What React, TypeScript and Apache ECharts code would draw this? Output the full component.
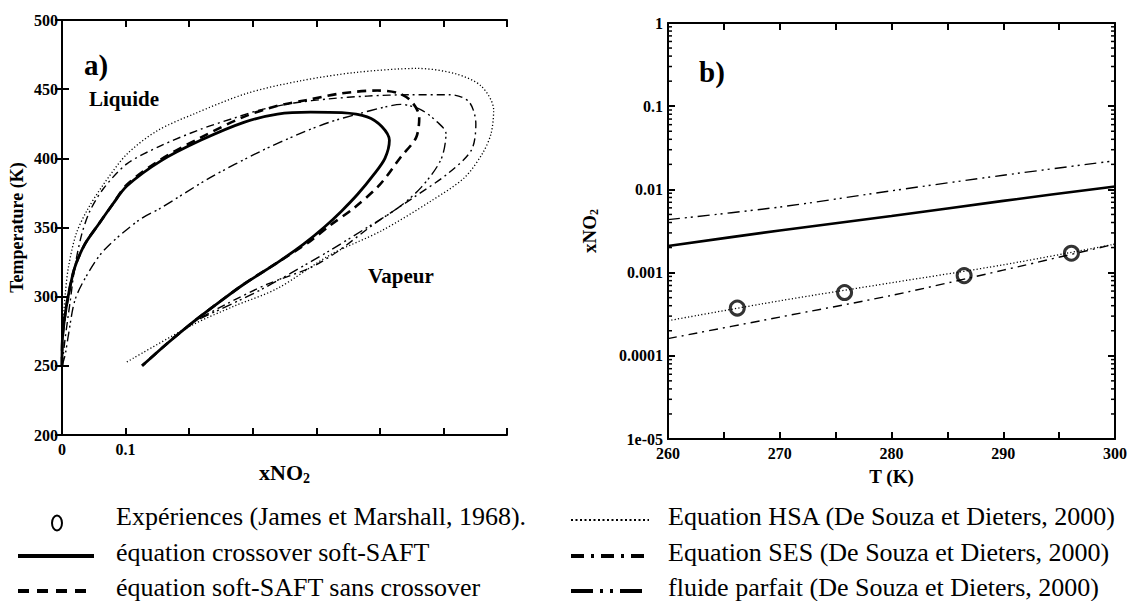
import React, { useEffect, useRef } from "react";
import * as echarts from "echarts";

// ---------- Panel a) : T (K) versus xNO2 ----------
const crossoverSAFT: [number, number][] = [
  [0, 250], [0.0005, 268], [0.004, 284], [0.01, 301], [0.02, 321], [0.036, 338],
  [0.057, 352], [0.08, 367], [0.102, 380], [0.155, 398], [0.218, 413], [0.286, 426],
  [0.339, 432], [0.391, 433.4], [0.44, 433], [0.48, 430], [0.503, 423], [0.515, 413],
  [0.508, 400], [0.49, 388], [0.465, 374], [0.44, 362], [0.412, 350], [0.38, 338],
  [0.34, 325], [0.286, 309], [0.25, 297], [0.207, 282], [0.165, 266], [0.126, 250],
];
const softSAFT: [number, number][] = [
  [0, 250], [0.0005, 268], [0.004, 284], [0.01, 301], [0.02, 321], [0.036, 338],
  [0.057, 352], [0.08, 367], [0.102, 381], [0.155, 399], [0.218, 415], [0.286, 430],
  [0.339, 438], [0.384, 442], [0.44, 447], [0.496, 449], [0.53, 447], [0.55, 441],
  [0.562, 430], [0.557, 415], [0.533, 401], [0.5, 381], [0.459, 364], [0.423, 352],
  [0.39, 340], [0.34, 325], [0.286, 309], [0.25, 297], [0.207, 282], [0.165, 266],
  [0.126, 250],
];
const sesA: [number, number][] = [
  [0, 250], [0.005, 270], [0.01, 287], [0.013, 297], [0.02, 321], [0.031, 345],
  [0.044, 362], [0.065, 378], [0.102, 396], [0.155, 409], [0.218, 421], [0.27, 429],
  [0.312, 435], [0.365, 440], [0.42, 443], [0.48, 445], [0.55, 446], [0.61, 446],
  [0.64, 441], [0.651, 425], [0.644, 406], [0.607, 389], [0.554, 372], [0.491, 352.5],
  [0.433, 332.5], [0.391, 321], [0.323, 309], [0.26, 295], [0.207, 282],
];
const parfaitA: [number, number][] = [
  [0, 250], [0.005, 258], [0.01, 272], [0.02, 297], [0.036, 313], [0.065, 333],
  [0.12, 355], [0.155, 364], [0.233, 386], [0.312, 405], [0.375, 418], [0.42, 426],
  [0.465, 432], [0.507, 437], [0.533, 439], [0.565, 435], [0.591, 426], [0.604, 418],
  [0.596, 399], [0.565, 379], [0.528, 364], [0.48, 350], [0.42, 333], [0.36, 317],
  [0.3, 302], [0.207, 282],
];
const hsaA: [number, number][] = [
  [0, 255], [0.001, 275], [0.005, 301], [0.01, 321], [0.022, 345], [0.039, 362],
  [0.065, 381], [0.102, 403], [0.15, 420], [0.207, 432], [0.291, 447], [0.375, 456],
  [0.46, 462], [0.559, 465], [0.62, 461], [0.66, 452], [0.679, 435], [0.675, 418],
  [0.662, 404], [0.633, 386], [0.58, 369], [0.502, 347.5], [0.423, 330.5],
  [0.339, 306], [0.27, 293], [0.207, 280], [0.099, 252],
];
const xLabelsA = ["0", "0.1"];

// ---------- Panel b) : xNO2 (log) versus T (K) ----------
const tempB = [260, 270, 280, 290, 300];
const crossoverB = [0.00209, 0.00321, 0.00479, 0.00728, 0.01086];
const hsaB = [0.000264, 0.000458, 0.000755, 0.00124, 0.0022];
const sesB = [0.000161, 0.000292, 0.000532, 0.00107, 0.0022];
const parfaitB = [0.00433, 0.00614, 0.00962, 0.0148, 0.0221];
const expT = [266.2, 275.8, 286.5, 296.1];
const expX = [0.000375, 0.000576, 0.00092, 0.00171];
const yLabelsB = ["1e-05", "0.0001", "0.001", "0.01", "0.1", "1"];
const minorMantissas = [2, 3, 4, 5, 6, 7, 8, 9];
const minorDecades = [1e-5, 1e-4, 1e-3, 1e-2, 1e-1];

// ---------- Legend ----------
const legendLeft = [
  "Expériences (James et Marshall, 1968).",
  "équation crossover soft-SAFT",
  "équation soft-SAFT sans crossover",
];
const legendRight = [
  "Equation HSA (De Souza et Dieters, 2000)",
  "Equation SES (De Souza et Dieters, 2000)",
  "fluide parfait (De Souza et Dieters, 2000)",
];

const SERIF = "Liberation Serif";
const BLACK = "#000";

const GA = { left: 62, top: 20, width: 445, height: 415 };
const GB = { left: 668, top: 23, width: 447, height: 416 };
const ROWS = [518, 554, 589];

const tickLabel = { fontFamily: SERIF, fontWeight: "bold" as const, fontSize: 16, color: BLACK };
const axisLine = { show: true, lineStyle: { color: BLACK, width: 2 } };
const axisTick = { show: true, inside: true, length: 7, lineStyle: { color: BLACK, width: 2 } };
const subRich = {
  n: { fontFamily: SERIF, fontWeight: "bold" as const, fontSize: 22, color: BLACK },
  s: { fontFamily: SERIF, fontWeight: "bold" as const, fontSize: 14, color: BLACK, padding: [11, 0, 0, 0] },
};
const subRichSide = {
  n: { fontFamily: SERIF, fontWeight: "bold" as const, fontSize: 19, color: BLACK },
  s: { fontFamily: SERIF, fontWeight: "bold" as const, fontSize: 12, color: BLACK, padding: [9, 0, 0, 0] },
};
const legendText = (text: string, left: number, y: number) => ({
  type: "text", left, top: y - 15,
  style: { text, fontFamily: SERIF, fontSize: 26, fill: BLACK },
});
const boldText = (text: string, left: number, top: number, size: number) => ({
  type: "text", left, top,
  style: { text, fontFamily: SERIF, fontWeight: "bold", fontSize: size, fill: BLACK },
});

function lineA(name: string, data: [number, number][], width: number, type: any) {
  return {
    name, type: "line", xAxisIndex: 0, yAxisIndex: 0, data, showSymbol: false,
    smooth: 0.3, silent: true, lineStyle: { color: BLACK, width, type },
  };
}
function lineB(name: string, vals: number[], width: number, type: any) {
  return {
    name, type: "line", xAxisIndex: 2, yAxisIndex: 2,
    data: tempB.map((t, i) => [t, vals[i]]), showSymbol: false, smooth: 0.3, silent: true,
    lineStyle: { color: BLACK, width, type },
  };
}

export default function App() {
  const ref = useRef<HTMLDivElement>(null);
  useEffect(() => {
    if (!ref.current) return;
    const chart = echarts.init(ref.current, undefined, { renderer: "svg" });
    const minorTicks: number[][] = [];
    minorDecades.forEach((d) => minorMantissas.forEach((m) => minorTicks.push([260, m * d])));

    const g: any[] = [];
    legendLeft.forEach((t, i) => g.push(legendText(t, 116, ROWS[i])));
    legendRight.forEach((t, i) => g.push(legendText(t, 668, ROWS[i])));
    g.push(
      { type: "ellipse", shape: { cx: 57, cy: ROWS[0] + 5, rx: 5, ry: 7.5 }, style: { fill: "none", stroke: BLACK, lineWidth: 2 } },
      { type: "line", shape: { x1: 18, y1: ROWS[1] + 2, x2: 94, y2: ROWS[1] + 2 }, style: { stroke: BLACK, lineWidth: 4 } },
      { type: "line", shape: { x1: 18, y1: ROWS[2] + 2, x2: 94, y2: ROWS[2] + 2 }, style: { stroke: BLACK, lineWidth: 4, lineDash: [11, 8] } },
      { type: "line", shape: { x1: 571, y1: ROWS[0] + 2, x2: 649, y2: ROWS[0] + 2 }, style: { stroke: BLACK, lineWidth: 2, lineDash: [2, 2.5] } },
      { type: "line", shape: { x1: 571, y1: ROWS[1] + 2, x2: 649, y2: ROWS[1] + 2 }, style: { stroke: BLACK, lineWidth: 4, lineDash: [13, 7, 3, 7] } },
      { type: "line", shape: { x1: 571, y1: ROWS[2] + 2, x2: 649, y2: ROWS[2] + 2 }, style: { stroke: BLACK, lineWidth: 4, lineDash: [22, 7, 3, 7, 3, 7] } },
      boldText("a)", GA.left + 22, GA.top + 30, 29),
      boldText("Liquide", GA.left + 27, GA.top + 68, 21),
      boldText("Vapeur", GA.left + 306, GA.top + 245, 21),
      boldText("b)", GB.left + 31, GB.top + 34, 29)
    );

    const option: any = {
      animation: false,
      backgroundColor: "#fff",
      grid: [
        { ...GA, containLabel: false },
        { ...GB, containLabel: false },
      ],
      xAxis: [
        {
          gridIndex: 0, type: "value", min: 0, max: 0.7, interval: 0.1, position: "bottom",
          axisLine, axisTick, splitLine: { show: false },
          axisLabel: {
            ...tickLabel, margin: 6,
            formatter: (v: number) => (Math.abs(v) < 1e-9 ? xLabelsA[0] : Math.abs(v - 0.1) < 1e-9 ? xLabelsA[1] : ""),
          },
          name: "{n|xNO}{s|2}", nameLocation: "middle", nameGap: 19, nameTextStyle: { rich: subRich },
        },
        {
          gridIndex: 0, type: "value", min: 0, max: 0.7, interval: 0.1, position: "top",
          axisLine, axisTick, axisLabel: { show: false }, splitLine: { show: false },
        },
        {
          gridIndex: 1, type: "value", min: 260, max: 300, interval: 10, position: "bottom",
          axisLine, axisTick, splitLine: { show: false },
          minorTick: { show: true, splitNumber: 2, length: 7, lineStyle: { color: BLACK, width: 2 } },
          axisLabel: { ...tickLabel, margin: 6 },
          name: "T (K)", nameLocation: "middle", nameGap: 28,
          nameTextStyle: { fontFamily: SERIF, fontWeight: "bold", fontSize: 19, color: BLACK },
        },
        {
          gridIndex: 1, type: "value", min: 260, max: 300, interval: 10, position: "top",
          axisLine, axisTick, axisLabel: { show: false }, splitLine: { show: false },
          minorTick: { show: true, splitNumber: 2, length: 7, lineStyle: { color: BLACK, width: 2 } },
        },
      ],
      yAxis: [
        {
          gridIndex: 0, type: "value", min: 200, max: 500, interval: 50, position: "left",
          axisLine, axisTick, splitLine: { show: false }, axisLabel: { ...tickLabel, margin: 4 },
          name: "Temperature (K)", nameLocation: "middle", nameGap: 36, nameRotate: 90,
          nameTextStyle: { fontFamily: SERIF, fontWeight: "bold", fontSize: 18, color: BLACK },
        },
        {
          gridIndex: 0, type: "value", min: 200, max: 500, interval: 50, position: "right",
          axisLine, axisTick, axisLabel: { show: false }, splitLine: { show: false },
        },
        {
          gridIndex: 1, type: "log", logBase: 10, min: 1e-5, max: 1, position: "left",
          axisLine, axisTick, splitLine: { show: false },
          axisLabel: {
            ...tickLabel, margin: 5,
            formatter: (v: number) => yLabelsB[Math.round(Math.log10(v)) + 5] ?? "",
          },
          name: "{n|xNO}{s|2}", nameLocation: "middle", nameGap: 68, nameRotate: 90,
          nameTextStyle: { rich: subRichSide },
        },
        {
          gridIndex: 1, type: "log", logBase: 10, min: 1e-5, max: 1, position: "right",
          axisLine, axisTick, axisLabel: { show: false }, splitLine: { show: false },
        },
      ],
      graphic: g,
      series: [
        lineA("Equation HSA", hsaA, 1.3, [1.2, 2.2]),
        lineA("Equation SES", sesA, 1.4, [8, 4, 2, 4]),
        lineA("fluide parfait", parfaitA, 1.4, [10, 4, 2, 3, 2, 4]),
        lineA("soft-SAFT sans crossover", softSAFT, 2.6, [9, 6]),
        lineA("crossover soft-SAFT", crossoverSAFT, 2.8, "solid"),
        lineB("crossover soft-SAFT b", crossoverB, 2.6, "solid"),
        lineB("Equation HSA b", hsaB, 1.3, [1.2, 2.2]),
        lineB("Equation SES b", sesB, 1.4, [9, 5, 2, 5]),
        lineB("fluide parfait b", parfaitB, 1.4, [12, 5, 2, 4, 2, 5]),
        {
          name: "Expériences", type: "scatter", xAxisIndex: 2, yAxisIndex: 2,
          data: expT.map((t, i) => [t, expX[i]]), symbol: "circle", symbolSize: 14, silent: true,
          itemStyle: { color: "rgba(0,0,0,0)", borderColor: BLACK, borderWidth: 3 }, z: 5,
        },
        {
          name: "minor log ticks", type: "custom", xAxisIndex: 2, yAxisIndex: 2, silent: true, clip: false,
          data: minorTicks,
          renderItem: (_p: any, api: any) => {
            const v = api.value(1);
            const l = api.coord([260, v]);
            const r = api.coord([300, v]);
            return {
              type: "group",
              children: [
                { type: "line", shape: { x1: l[0], y1: l[1], x2: l[0] + 4, y2: l[1] }, style: { stroke: BLACK, lineWidth: 1.5 } },
                { type: "line", shape: { x1: r[0] - 4, y1: r[1], x2: r[0], y2: r[1] }, style: { stroke: BLACK, lineWidth: 1.5 } },
              ],
            };
          },
        },
      ],
    };
    chart.setOption(option);
    return () => chart.dispose();
  }, []);
  return <div ref={ref} style={{ position: "fixed", left: 0, top: 0, width: 1131, height: 601, background: "#fff" }} />;
}
